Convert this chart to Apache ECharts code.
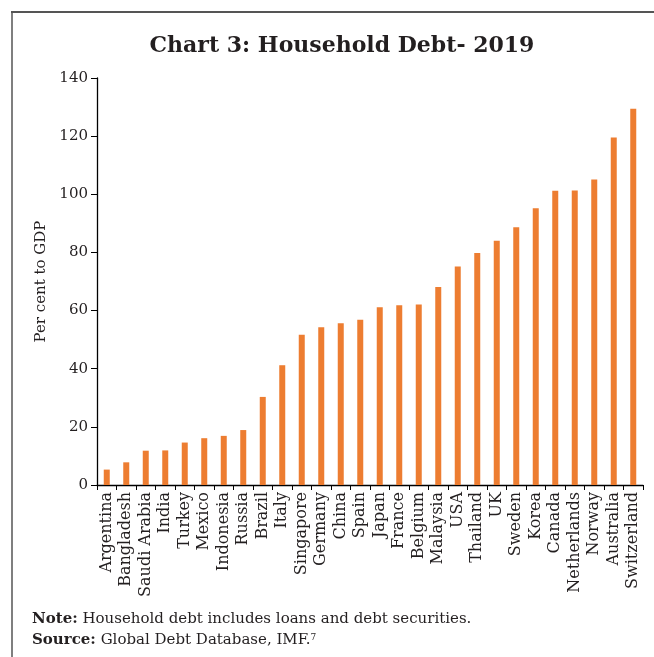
<!DOCTYPE html>
<html>
<head>
<meta charset="utf-8">
<script src="https://cdn.jsdelivr.net/npm/echarts@6/dist/echarts.min.js"></script>
<style>
html,body{margin:0;padding:0;background:#fff;}
#chart{width:654px;height:657px;}
</style>
</head>
<body>
<div id="chart"></div>
<script>
const categories = ["Argentina","Bangladesh","Saudi Arabia","India","Turkey","Mexico","Indonesia","Russia","Brazil","Italy","Singapore","Germany","China","Spain","Japan","France","Belgium","Malaysia","USA","Thailand","UK","Sweden","Korea","Canada","Netherlands","Norway","Australia","Switzerland"];
const debtValues = [5.3,7.8,11.8,11.9,14.6,16.1,16.9,18.9,30.3,41.2,51.7,54.3,55.6,56.8,61.1,61.8,62.1,68.1,75.2,79.8,84.0,88.7,95.2,101.2,101.3,105.1,119.5,129.4];
const yTicks = [0,20,40,60,80,100,120,140];
const titleText = "Chart 3: Household Debt- 2019";
const yAxisName = "Per cent to GDP";
const noteLabel = "Note:";
const noteText = " Household debt includes loans and debt securities.";
const sourceLabel = "Source:";
const sourceText = " Global Debt Database, IMF.";

const serif = "'DejaVu Serif', 'Liberation Serif', serif";
const chart = echarts.init(document.getElementById('chart'), null, {renderer:'canvas'});
chart.setOption({
  animation:false,
  backgroundColor:'#fff',
  title:{
    text:titleText, left:337, top:30, textAlign:'center',
    textStyle:{fontFamily:serif, fontWeight:'bold', fontSize:22, color:'#231f20'}
  },
  grid:{left:97, right:11, top:78, bottom:172, containLabel:false},
  xAxis:{
    type:'category', data:categories,
    axisLine:{lineStyle:{color:'#000', width:1.3}},
    axisTick:{show:true, alignWithLabel:false, length:5, lineStyle:{color:'#000'}},
    axisLabel:{rotate:90, interval:0, fontFamily:serif, fontSize:16, color:'#231f20', margin:7}
  },
  yAxis:{
    type:'value', min:yTicks[0], max:yTicks[yTicks.length-1], interval:20,
    name:yAxisName, nameLocation:'middle', nameGap:46, nameRotate:90,
    nameTextStyle:{fontFamily:serif, fontSize:15, color:'#231f20'},
    axisLine:{show:true, lineStyle:{color:'#000', width:1.3}},
    axisTick:{show:true, length:6, lineStyle:{color:'#000'}},
    splitLine:{show:false},
    axisLabel:{fontFamily:serif, fontSize:15, color:'#231f20', margin:9}
  },
  series:[{
    type:'bar', data:debtValues, barWidth:6,
    itemStyle:{color:'#ED7D31'}
  }],
  graphic:[
    {type:'line', shape:{x1:11, y1:12, x2:654, y2:12}, style:{stroke:'#555', lineWidth:2}},
    {type:'line', shape:{x1:12, y1:12, x2:12, y2:657}, style:{stroke:'#555', lineWidth:1.5}},
    {type:'text', left:32, top:612, style:{
      text:'{b|'+noteLabel+'}'+noteText,
      font:"15px "+serif, fill:'#231f20',
      rich:{b:{fontFamily:serif, fontWeight:'bold', fontSize:15, fill:'#231f20'}}
    }},
    {type:'text', left:32, top:633, style:{
      text:'{b|'+sourceLabel+'}'+sourceText+'{s|7}',
      font:"15px "+serif, fill:'#231f20',
      rich:{b:{fontFamily:serif, fontWeight:'bold', fontSize:15, fill:'#231f20'}, s:{fontFamily:serif, fontSize:9, verticalAlign:'top', fill:'#231f20'}}
    }}
  ]
});
</script>
</body>
</html>
